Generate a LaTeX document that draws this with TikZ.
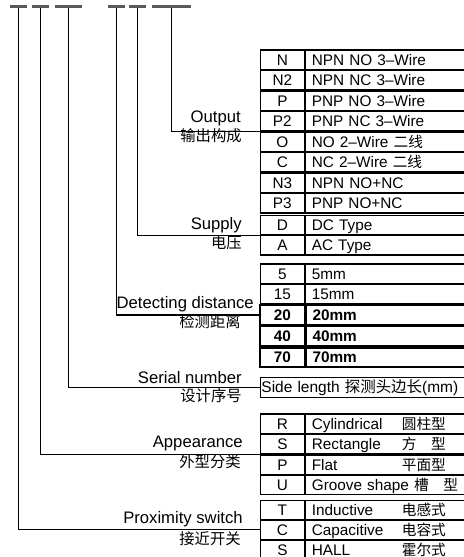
\documentclass[tikz,border=0pt]{standalone}
\usepackage{fontspec}
\setmainfont{Liberation Sans}
\newfontfamily\cjk{Noto Sans CJK SC}
\usetikzlibrary{positioning}

\newcommand{\cellfont}{\fontsize{11.5pt}{13pt}\selectfont}
\newcommand{\labelfont}{\fontsize{12.5pt}{14pt}\selectfont}
\newcommand{\zhl}[1]{{\cjk\fontsize{11.5pt}{13pt}\selectfont #1}}
\newcommand{\zhc}[1]{{\cjk\fontsize{11pt}{13pt}\selectfont #1}}

\tikzset{
  bar/.style={fill=black!65, minimum height=2.5pt, inner sep=0pt},
  code/.style={draw, line width=0.9pt, minimum width=33.4pt, minimum height=14.5pt,
    inner sep=0pt, text height=8.2pt, text depth=0pt, font=\cellfont},
  desc/.style={draw, line width=0.9pt, minimum height=14.5pt, text width=110.25pt,
    inner xsep=4.5pt, inner ysep=0pt, text height=8.2pt, text depth=0pt,
    align=left, font=\cellfont},
  heavy/.style={line width=1.4pt, font=\cellfont\bfseries},
  short/.style={minimum height=14.25pt},
  lbl/.style={anchor=base east, inner sep=0pt, font=\labelfont},
  wire/.style={line width=0.8pt},
}

\begin{document}
\begin{tikzpicture}[x=0.75pt, y=-0.75pt]

    \useasboundingbox (0,0) rectangle (464,557);
    \clip (0,0) rectangle (464,557);

    % Code bars
    \node[bar, minimum width=13pt]   (bar1) at (18.7,6.3)  {};
    \node[bar, minimum width=12.7pt] (bar2) at (40.2,6.3)  {};
    \node[bar, minimum width=20.5pt] (bar3) at (68.7,6.3)  {};
    \node[bar, minimum width=12.5pt] (bar4) at (116.7,6.3) {};
    \node[bar, minimum width=12.7pt] (bar5) at (137.5,6.3) {};
    \node[bar, minimum width=28.8pt] (bar6) at (171.3,6.3) {};

    % Output table
    \node[code, anchor=north west] (outN) at (259.5,49.3) {N};
    \node[code, below=0pt of outN]  (outN2) {N2};
    \node[code, below=0pt of outN2] (outP)  {P};
    \node[code, below=0pt of outP]  (outP2) {P2};
    \node[code, below=0pt of outP2] (outO)  {O};
    \node[code, below=0pt of outO]  (outC)  {C};
    \node[code, below=0pt of outC]  (outN3) {N3};
    \node[code, below=0pt of outN3] (outP3) {P3};
    \node[desc, right=0pt of outN]  (outNtxt)  {NPN NO 3–Wire};
    \node[desc, right=0pt of outN2] (outN2txt) {NPN NC 3–Wire};
    \node[desc, right=0pt of outP]  (outPtxt)  {PNP NO 3–Wire};
    \node[desc, right=0pt of outP2] (outP2txt) {PNP NC 3–Wire};
    \node[desc, right=0pt of outO]  (outOtxt)  {NO 2–Wire \zhc{二线}};
    \node[desc, right=0pt of outC]  (outCtxt)  {NC 2–Wire \zhc{二线}};
    \node[desc, right=0pt of outN3] (outN3txt) {NPN NO+NC};
    \node[desc, right=0pt of outP3] (outP3txt) {PNP NO+NC};

    % Supply table
    \node[code, anchor=north west] (supD) at (259.5,214.5) {D};
    \node[code, below=0pt of supD] (supA) {A};
    \node[desc, right=0pt of supD] (supDtxt) {DC Type};
    \node[desc, right=0pt of supA] (supAtxt) {AC Type};

    % Detecting distance table
    \node[code, anchor=north west] (dis5) at (259.5,263.3) {5};
    \node[code, below=0pt of dis5]         (dis15) {15};
    \node[code, heavy, below=0pt of dis15] (dis20) {20};
    \node[code, heavy, below=0pt of dis20] (dis40) {40};
    \node[code, heavy, below=0pt of dis40] (dis70) {70};
    \node[desc, right=0pt of dis5]         (dis5txt)  {5mm};
    \node[desc, right=0pt of dis15]        (dis15txt) {15mm};
    \node[desc, heavy, right=0pt of dis20] (dis20txt) {20mm};
    \node[desc, heavy, right=0pt of dis40] (dis40txt) {40mm};
    \node[desc, heavy, right=0pt of dis70] (dis70txt) {70mm};

    % Serial number box
    \node[draw, line width=0.9pt, anchor=north west, minimum width=153pt, minimum height=15pt,
          text width=151pt, inner xsep=1pt, inner ysep=0pt, align=left,
          font=\fontsize{11.6pt}{13pt}\selectfont] (side) at (259.5,377)
          {\mbox{Side length {\cjk 探测头边长}(mm)}};

    % Appearance table
    \node[code, anchor=north west] (appR) at (259.5,413.3) {R};
    \node[code, below=0pt of appR] (appS) {S};
    \node[code, below=0pt of appS] (appP) {P};
    \node[code, below=0pt of appP] (appU) {U};
    \node[desc, right=0pt of appR] (appRtxt) {\makebox[67.5pt][l]{Cylindrical}\zhc{圆柱型}};
    \node[desc, right=0pt of appS] (appStxt) {\makebox[67.5pt][l]{Rectangle}\zhc{方\quad 型}};
    \node[desc, right=0pt of appP] (appPtxt) {\makebox[67.5pt][l]{Flat}\zhc{平面型}};
    \node[desc, right=0pt of appU] (appUtxt) {Groove shape \zhc{槽\quad 型}};

    % Proximity switch table
    \node[code, short, anchor=north west] (proxT) at (259.5,499.5) {T};
    \node[code, short, below=0pt of proxT] (proxC) {C};
    \node[code, short, below=0pt of proxC] (proxS) {S};
    \node[desc, short, right=0pt of proxT] (proxTtxt) {\makebox[67.5pt][l]{Inductive}\zhc{电感式}};
    \node[desc, short, right=0pt of proxC] (proxCtxt) {\makebox[67.5pt][l]{Capacitive}\zhc{电容式}};
    \node[desc, short, right=0pt of proxS] (proxStxt) {\makebox[67.5pt][l]{HALL}\zhc{霍尔式}};

    % Labels
    \node[lbl] (outEn)  at (241,122)   {Output};
    \node[lbl] (outZh)  at (242,141)   {\zhl{输出构成}};
    \node[lbl] (supEn)  at (242,229)   {Supply};
    \node[lbl] (supZh)  at (242,248.5) {\zhl{电压}};
    \node[lbl] (disEn)  at (254,308)   {Detecting distance};
    \node[lbl] (disZh)  at (241,327)   {\zhl{检测距离}};
    \node[lbl] (serEn)  at (242,383)   {Serial number};
    \node[lbl] (serZh)  at (242,401)   {\zhl{设计序号}};
    \node[lbl] (appEn)  at (243,447)   {Appearance};
    \node[lbl] (appZh)  at (241,467.5) {\zhl{外型分类}};
    \node[lbl] (proxEn) at (243,523.5) {Proximity switch};
    \node[lbl] (proxZh) at (241,544.5) {\zhl{接近开关}};

    % Connectors
    \draw[wire] (bar6.south) |- (outP2.south west);
    \draw[wire] (bar5.south) |- (supD.south west);
    \draw[wire] (bar4.south) |- (dis20.west);
    \draw[wire] (bar3.south) |- (side.west);
    \draw[wire] (bar2.south) |- (appS.south west);
    \draw[wire] (bar1.south) |- (proxC.west);

\end{tikzpicture}
\end{document}
